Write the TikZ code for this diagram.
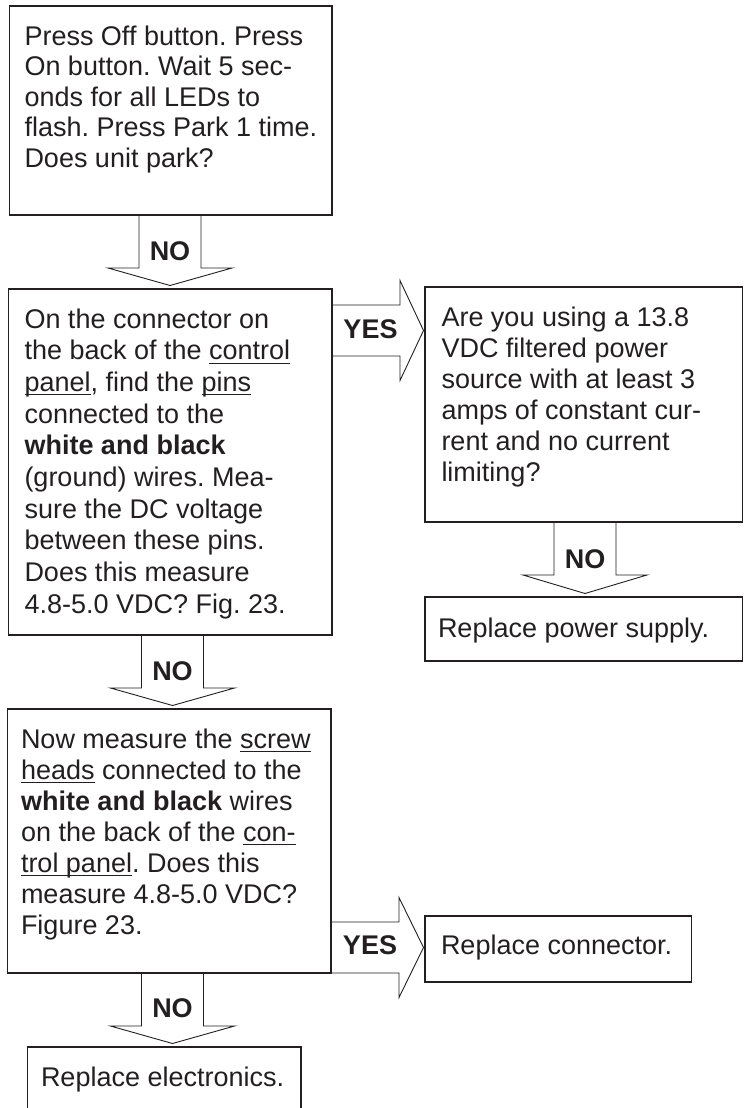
\documentclass[tikz,border=0pt]{standalone}
\usepackage{fontspec}
\setmainfont{Liberation Sans}
\usetikzlibrary{calc}
\definecolor{ink}{HTML}{231F20}
\frenchspacing
\newcommand\ulx[1]{\setbox0=\hbox{#1}\rlap{\rule[-4pt]{\wd0}{1.2pt}}\box0\relax}
\newcommand\topst{\vrule height 22pt depth 0pt width 0pt}
\newcommand\blkdown[3]{%
  \draw[blk] ($(#1.south -| #3)+(-31,0)$) -- ++(0,53) -- ++(-31,0)
    -- ($(#2.north -| #3)+(0,-3.5)$) -- ($(#1.south -| #3)+(62,53)$)
    -- ++(-31,0) -- ++(0,-53);}
\newcommand\blkright[3]{%
  \draw[blk] ($(#1.east |- #3)+(0,-25.5)$) -- ++(68,0) -- ++(0,-24.5)
    -- ($(#2.west |- #3)+(-1.5,0)$) -- ($(#1.east |- #3)+(68,50)$)
    -- ++(0,-24.5) -- ++(-68,0);}
\begin{document}
\begin{tikzpicture}[x=1pt,y=-1pt,
  box/.style={draw=ink, line width=1.8pt, rectangle, inner sep=0pt, outer sep=0pt, anchor=north west},
  txt/.style={anchor=north west, inner sep=0pt, outer sep=0pt, align=left, text=ink, font=\fontsize{27}{31}\selectfont\frenchspacing},
  lbl/.style={inner sep=0pt, text=ink, font=\fontsize{27}{31}\selectfont\bfseries},
  blk/.style={draw=ink, line width=0.9pt, line join=miter}]
\useasboundingbox (0,0) rectangle (744,1108);

% boxes
\node[box, minimum width=322.5pt, minimum height=209pt] (b1) at (9.5,6) {};
\node[box, minimum width=323.5pt, minimum height=346pt] (b2) at (8.5,289) {};
\node[box, minimum width=317.5pt, minimum height=235pt] (bp) at (425,287) {};
\node[box, minimum width=317.5pt, minimum height=64pt] (bs) at (425,597) {};
\node[box, minimum width=323.5pt, minimum height=264pt] (b3) at (7.5,709) {};
\node[box, minimum width=266.5pt, minimum height=66pt] (bc) at (425,916) {};
\node[box, minimum width=273.5pt, minimum height=70pt] (be) at (27.5,1047) {};

% texts
\node[txt, font=\fontsize{27}{30.6}\selectfont\frenchspacing] (t1) at ($(b1.north west)+(15,17)$) {\topst Press Off button. Press\\On button. Wait 5 sec-\\onds for all LEDs to\\flash. Press Park 1 time.\\Does unit park?};
\node[txt, font=\fontsize{27}{31.7}\selectfont\frenchspacing] (t2) at ($(b2.north west)+(16,17)$) {\topst On the connector on\\the back of the \ulx{control}\\\ulx{panel}, find the \ulx{pins}\\connected to the\\\textbf{white and black}\\(ground) wires. Mea-\\sure the DC voltage\\between these pins.\\Does this measure\\4.8-5.0 VDC? Fig. 23.};
\node[txt] (tp) at ($(bp.north west)+(16.5,17)$) {\topst Are you using a 13.8\\VDC filtered power\\source with at least 3\\amps of constant cur-\\rent and no current\\limiting?};
\node[txt] (ts) at ($(bs.north west)+(13,18)$) {\topst Replace power supply.};
\node[txt] (t3) at ($(b3.north west)+(13.5,17)$) {\topst Now measure the \ulx{screw}\\\ulx{heads} connected to the\\\textbf{white and black} wires\\on the back of the \ulx{con-}\\\ulx{trol panel}. Does this\\measure 4.8-5.0 VDC?\\Figure 23.};
\node[txt] (tc) at ($(bc.north west)+(16,16)$) {\topst Replace connector.};
\node[txt] (te) at ($(be.north west)+(13.5,17.5)$) {\topst Replace electronics.};

% reference coordinates for arrow axes
\coordinate (c1) at (170,0);
\coordinate (c2) at (172.5,0);
\coordinate (c4) at (585,0);
\coordinate (r1) at (0,330.5);
\coordinate (r2) at (0,947.5);

% block arrows
\blkdown{b1}{b2}{c1}
\blkdown{b2}{b3}{c2}
\blkdown{b3}{be}{c2}
\blkdown{bp}{bs}{c4}
\blkright{b2}{bp}{r1}
\blkright{b3}{bc}{r2}

% labels
\node[lbl] (n1) at ($(b1.south -| c1)+(0,36.5)$) {NO};
\node[lbl] (n2) at ($(b2.south -| c2)+(0,36.5)$) {NO};
\node[lbl] (n3) at ($(b3.south -| c2)+(0,35)$) {NO};
\node[lbl] (n4) at ($(bp.south -| c4)+(0,37)$) {NO};
\node[lbl] (y1) at ($(b2.east |- r1)+(38.5,-1.5)$) {YES};
\node[lbl] (y2) at ($(b3.east |- r2)+(39,-2.5)$) {YES};
\end{tikzpicture}
\end{document}
